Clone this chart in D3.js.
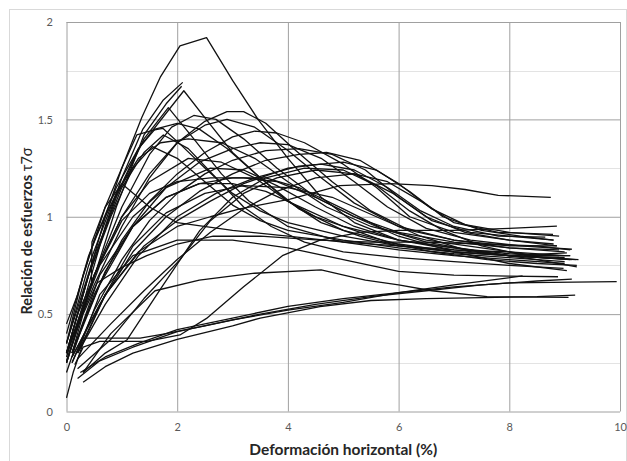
<!DOCTYPE html>
<html>
<head>
<meta charset="utf-8">
<script src="https://cdnjs.cloudflare.com/ajax/libs/d3/7.8.5/d3.min.js"></script>
<style>
  body { margin: 0; background: #fff; }
  svg { display: block; }
</style>
</head>
<body>
<script>
// Tick values of both axes.
var xTicks = [0, 2, 4, 6, 8, 10];
var yTicks = [0, 0.5, 1, 1.5, 2];
var yMinorTicks = [0.25, 0.75, 1.25, 1.75];

// One array per test: [deformación %, τ/σ].
var c01 = [[0,0.3],[0.3,0.6],[0.7,1.0],[1.0,1.25],[1.36,1.51],[1.7,1.72],[2.05,1.877],[2.53,1.92],[3.0,1.7],[3.46,1.5],[4.0,1.3],[4.6,1.1],[5.2,0.97],[6,0.88],[7,0.84],[8,0.81],[8.9,0.8]];
var c02 = [[0,0.28],[0.3,0.55],[0.7,0.95],[1.0,1.2],[1.38,1.45],[1.75,1.6],[2.1,1.69]];
var c03 = [[0,0.25],[0.4,0.6],[0.9,1.05],[1.4,1.42],[1.8,1.58],[2.08,1.67]];
var c04 = [[0,0.35],[0.4,0.75],[0.8,1.05],[1.3,1.35],[1.87,1.557],[2.12,1.647],[2.53,1.497],[3.0,1.33],[3.5,1.2],[4.0,1.08],[4.5,1.0],[5.0,0.95],[6,0.88],[7,0.84],[8,0.8],[9.1,0.78]];
var c05 = [[0,0.3],[0.4,0.7],[0.9,1.1],[1.4,1.4],[1.84,1.56],[2.3,1.4],[2.8,1.22],[3.3,1.08],[4,0.95],[5,0.87],[6,0.83],[7,0.8],[8,0.78],[9,0.76]];
var c06 = [[0,0.26],[0.5,0.7],[1.0,1.05],[1.5,1.32],[1.9,1.46],[2.3,1.52],[2.7,1.5],[3.2,1.4],[3.8,1.25],[4.5,1.1],[5.2,1.0],[6,0.92],[7,0.87],[8,0.84],[9,0.82]];
var c07 = [[0,0.3],[0.5,0.65],[1.0,0.95],[1.5,1.2],[2.0,1.38],[2.5,1.49],[2.9,1.54],[3.2,1.54],[3.6,1.48],[4.1,1.35],[4.8,1.18],[5.5,1.03],[6.2,0.93],[7,0.88],[8,0.84],[8.9,0.83]];
var c08 = [[0,0.35],[0.3,0.7],[0.7,1.05],[1.0,1.25],[1.27,1.42],[1.57,1.445],[1.74,1.454],[2.1,1.36],[2.5,1.25],[3,1.12],[3.5,1.03],[4,0.97],[5,0.9],[6,0.85],[7,0.82],[8,0.8],[9,0.79]];
var c09 = [[0.1,0.3],[0.5,0.6],[1,0.88],[1.5,1.08],[2,1.22],[2.5,1.33],[3,1.41],[3.4,1.44],[3.8,1.43],[4.3,1.38],[5,1.27],[5.6,1.15],[6.2,1.0],[7,0.92],[8,0.88],[8.8,0.86]];
var c10 = [[0.1,0.25],[0.5,0.52],[1,0.78],[1.5,0.98],[2,1.12],[2.5,1.22],[3,1.29],[3.6,1.34],[4.2,1.35],[4.8,1.32],[5.4,1.24],[6,1.1],[6.6,0.98],[7.3,0.92],[8,0.9],[8.8,0.88]];
var c11 = [[0.1,0.28],[0.6,0.55],[1.2,0.82],[1.8,1.0],[2.4,1.13],[3,1.22],[3.6,1.29],[4.2,1.32],[4.7,1.33],[5.3,1.29],[6,1.17],[6.6,1.04],[7.2,0.96],[8,0.92],[8.9,0.9]];
var c12 = [[0.2,0.3],[0.7,0.55],[1.3,0.8],[2,1.0],[2.7,1.12],[3.4,1.2],[4.2,1.26],[5,1.28],[5.6,1.24],[6.2,1.13],[6.8,1.0],[7.5,0.93],[8.2,0.9],[8.8,0.88]];
var c13 = [[0.2,0.3],[0.7,0.6],[1.3,0.82],[2,0.95],[2.6,1.0],[3.13,1.04],[4.04,1.09],[4.94,1.16],[5.85,1.17],[6.6,1.16],[7.2,1.14],[7.8,1.11],[8.75,1.1]];
var c14 = [[0,0.3],[0.4,0.7],[0.8,1.0],[1.2,1.25],[1.55,1.36],[2,1.3],[2.5,1.18],[3,1.06],[3.5,0.98],[4,0.93],[5,0.88],[6,0.84],[7,0.81],[8,0.79],[9,0.77]];
var c15 = [[0,0.3],[0.2,0.5],[0.45,0.66],[0.46,0.87],[0.7,1.05],[1.0,1.17],[1.5,1.05],[2,0.97],[3,0.93],[4,0.9],[5,0.87],[6,0.85],[7,0.83],[8,0.82],[9,0.8]];
var c16 = [[0,0.25],[0.5,0.7],[1.0,1.0],[1.5,1.18],[2.2,1.3],[2.8,1.28],[3.4,1.2],[4,1.08],[4.6,0.97],[5.3,0.9],[6,0.85],[7,0.82],[8,0.8],[9.2,0.78]];
var c17 = [[0,0.3],[0.6,0.75],[1.2,1.0],[1.8,1.15],[2.6,1.25],[3.2,1.24],[3.8,1.16],[4.5,1.05],[5.2,0.95],[6,0.88],[7,0.83],[8,0.8],[9.25,0.78]];
var c18 = [[0.1,0.3],[0.6,0.7],[1.2,0.95],[1.8,1.1],[2.4,1.17],[3,1.2],[3.6,1.2],[4.2,1.15],[5,1.04],[5.7,0.94],[6.5,0.87],[7.5,0.82],[8.5,0.78],[9.22,0.743]];
var c19 = [[0,0.25],[0.5,0.7],[1,0.98],[1.5,1.12],[2,1.18],[2.6,1.2],[3.2,1.2],[3.8,1.18],[4.5,1.1],[5.2,1.0],[6,0.9],[7,0.82],[8,0.76],[9.04,0.723]];
var c20 = [[0,0.35],[0.5,0.8],[1,1.15],[1.4,1.33],[1.75,1.42],[2.2,1.35],[2.7,1.2],[3.2,1.05],[3.7,0.95],[4.3,0.87],[5,0.82],[6,0.79],[7,0.77],[8,0.75],[8.98,0.735]];
var c21 = [[0,0.4],[0.4,0.8],[0.9,1.15],[1.3,1.35],[1.6,1.45],[2.0,1.48],[2.4,1.45],[2.9,1.35],[3.5,1.2],[4.2,1.04],[5,0.93],[6,0.86],[7,0.82],[8,0.8],[9.13,0.78]];
var c22 = [[0,0.3],[0.5,0.7],[1,1.0],[1.5,1.22],[2,1.38],[2.5,1.47],[2.9,1.5],[3.4,1.46],[4,1.34],[4.6,1.2],[5.2,1.07],[6,0.95],[7,0.88],[8,0.85],[8.86,0.85]];
var c23 = [[0.1,0.3],[0.6,0.65],[1.2,0.95],[1.8,1.15],[2.4,1.28],[3,1.35],[3.5,1.38],[4,1.37],[4.6,1.3],[5.2,1.18],[5.8,1.05],[6.5,0.94],[7.3,0.88],[8.2,0.85],[9.13,0.833]];
var c24 = [[0.1,0.28],[0.7,0.6],[1.4,0.85],[2,0.98],[2.6,1.08],[3.2,1.17],[4,1.25],[4.6,1.27],[5.2,1.24],[5.8,1.15],[6.4,1.03],[7,0.95],[7.8,0.9],[8.65,0.895]];
var c25 = [[0.2,0.27],[0.8,0.45],[1.4,0.62],[2,0.78],[2.6,0.92],[3.2,1.04],[3.8,1.13],[4.5,1.2],[5.2,1.22],[5.8,1.18],[6.4,1.08],[7,0.97],[7.8,0.92],[8.79,0.91]];
var c26 = [[0.1,0.3],[0.3,0.5],[0.55,0.66],[1.0,0.74],[1.45,0.8],[2,0.86],[2.65,0.9],[3.5,0.9],[4.58,0.88],[5.5,0.87],[6.5,0.87],[7.5,0.86],[8.5,0.85],[9.1,0.83]];
var c27 = [[0.15,0.24],[0.3,0.33],[0.6,0.36],[1.0,0.36],[1.45,0.36],[2.05,0.393],[2.53,0.478],[3.2,0.64],[3.9,0.8],[4.58,0.88],[5.3,0.92],[6,0.93],[7,0.93],[8,0.94],[8.86,0.952]];
var c28 = [[0.3,0.15],[0.7,0.23],[1.2,0.3],[2,0.37],[3,0.44],[3.5,0.48],[4.58,0.538],[5.5,0.57],[6.5,0.58],[7.5,0.585],[8.5,0.59],[9.19,0.598]];
var c29 = [[0.2,0.17],[0.6,0.26],[1.2,0.33],[2,0.41],[3,0.47],[4,0.52],[5,0.56],[6,0.61],[7,0.65],[8.24,0.696]];
var c30 = [[0.25,0.2],[0.7,0.28],[1.3,0.35],[2,0.42],[3,0.48],[4,0.54],[5,0.58],[6,0.61],[7,0.64],[8,0.66],[9.94,0.667]];
var c31 = [[0.1,0.25],[0.3,0.377],[0.8,0.377],[1.33,0.377],[1.8,0.4],[2.5,0.44],[3.5,0.5],[4.5,0.55],[5.5,0.59],[6.5,0.62],[7.5,0.65],[8.5,0.67],[9.13,0.68]];
var c32 = [[0.3,0.2],[0.8,0.4],[1.6,0.62],[2.4,0.675],[3.4,0.71],[4.6,0.727],[5.4,0.675],[6,0.65],[6.6,0.62],[7.6,0.59],[9.07,0.586]];
var c33 = [[0.2,0.3],[0.6,0.6],[1.2,0.8],[2,0.88],[3,0.88],[4,0.84],[5,0.78],[6,0.72],[7,0.7],[8,0.695],[8.88,0.692]];
var c34 = [[0.2,0.22],[0.8,0.37],[1.4,0.58],[2.05,0.78],[2.6,0.98],[3.2,1.12],[3.8,1.2],[4.5,1.24],[5.2,1.22],[5.9,1.12],[6.5,1.0],[7.2,0.92],[8,0.88],[8.86,0.85]];
var c35 = [[0.3,0.2],[0.7,0.3],[1.09,0.367],[1.7,0.63],[2.41,0.93],[3,1.1],[3.6,1.2],[4.3,1.25],[5,1.24],[5.6,1.16],[6.2,1.03],[6.8,0.93],[7.5,0.85],[8.3,0.8],[9.1,0.8]];
var c36 = [[0,0.07],[0.12,0.2],[0.3,0.35],[0.7,0.6],[1.2,0.85],[1.8,1.02],[2.5,1.12],[3.2,1.16],[4,1.15],[4.8,1.1],[5.6,1.0],[6.4,0.9],[7.2,0.83],[8,0.8],[9.04,0.815]];
var c37 = [[0,0.45],[0.2,0.6],[0.5,0.88],[0.9,1.12],[1.3,1.3],[1.7,1.38],[2.2,1.4],[2.8,1.38],[3.4,1.3],[4,1.18],[4.7,1.05],[5.5,0.95],[6.5,0.88],[7.5,0.84],[8.5,0.8],[9.1,0.8]];
var c38 = [[0,0.2],[0.3,0.45],[0.7,0.72],[1.2,0.95],[1.8,1.1],[2.4,1.17],[3,1.17],[3.6,1.13],[4.3,1.04],[5,0.95],[5.8,0.87],[6.6,0.82],[7.6,0.78],[8.5,0.76],[9.22,0.75]];

var series = [c01, c02, c03, c04, c05, c06, c07, c08, c09, c10,
              c11, c12, c13, c14, c15, c16, c17, c18, c19, c20,
              c21, c22, c23, c24, c25, c26, c27, c28, c29, c30,
              c31, c32, c33, c34, c35, c36, c37, c38];

// Size of the picture and of the plot area.
var width = 627, height = 461;
var plot = {left: 66.5, right: 620, top: 22, bottom: 411.5};
var font = "Lato, 'Open Sans', sans-serif";

var svg = d3.select("body").append("svg")
        .attr("width", width)
        .attr("height", height);

// Outer frame of the chart.
svg.append("rect")
        .attr("x", 9.5)
        .attr("y", 9.5)
        .attr("width", 617)
        .attr("height", 460)
        .style("fill", "#fff")
        .style("stroke", "#d9d9d9");

var x = d3.scaleLinear().domain([0, 10]).range([plot.left, plot.right]);
var y = d3.scaleLinear().domain([0, 2]).range([plot.bottom, plot.top]);

// Minor horizontal gridlines.
svg.append("g")
        .selectAll("line")
        .data(yMinorTicks)
        .join("line")
        .attr("x1", plot.left)
        .attr("x2", plot.right)
        .attr("y1", function(d) { return Math.round(y(d)) + 0.5; })
        .attr("y2", function(d) { return Math.round(y(d)) + 0.5; })
        .style("stroke", "#e3e3e3");

// Major gridlines through the axes.
var gx = svg.append("g")
        .attr("transform", "translate(0," + plot.bottom + ")")
        .call(d3.axisBottom(x).tickValues(xTicks).tickSize(plot.top - plot.bottom).tickPadding(0).tickFormat(d3.format("")));
var gy = svg.append("g")
        .attr("transform", "translate(" + plot.left + ",0)")
        .call(d3.axisLeft(y).tickValues(yTicks).tickSize(plot.left - plot.right).tickPadding(0).tickFormat(d3.format("")));

[gx, gy].forEach(function(g) {
    g.select(".domain").remove();
    g.selectAll(".tick line").style("stroke", "#a0a0a0").style("stroke-width", 1);
    g.selectAll(".tick text")
            .style("font-family", font)
            .style("font-size", "11px")
            .style("fill", "#595959");
});
gx.selectAll(".tick text").attr("y", 12).attr("dy", "0.71em");
gy.selectAll(".tick text").attr("x", -13.5).attr("dy", "0.35em");

// Test curves.
var line = d3.line()
        .x(function(d) { return x(d[0]); })
        .y(function(d) { return y(d[1]); });

svg.append("g")
        .selectAll("path")
        .data(series)
        .join("path")
        .attr("d", line)
        .style("fill", "none")
        .style("stroke", "#111")
        .style("stroke-width", 1.3)
        .style("stroke-linejoin", "round");

// Axis titles.
svg.append("text")
        .attr("x", (plot.left + plot.right) / 2)
        .attr("y", 455)
        .attr("text-anchor", "middle")
        .style("font-family", font)
        .style("font-size", "15.5px")
        .style("font-weight", "bold")
        .style("fill", "#262626")
        .text("Deformación horizontal (%)");

var yTitle = svg.append("text")
        .attr("transform", "translate(32,231) rotate(-90)")
        .attr("text-anchor", "middle")
        .style("font-family", font)
        .style("font-size", "14.5px")
        .style("fill", "#262626");
yTitle.append("tspan").style("font-weight", "bold").text("Relación de esfuerzos ");
yTitle.append("tspan").text("τ7σ");
</script>
</body>
</html>
